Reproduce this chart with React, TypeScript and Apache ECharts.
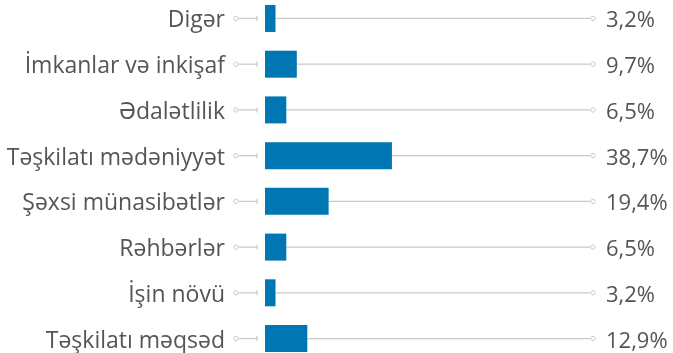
import React, { useEffect, useRef } from "react";
import * as echarts from "echarts";

const categories = [
  "Digər",
  "İmkanlar və inkişaf",
  "Ədalətlilik",
  "Təşkilatı mədəniyyət",
  "Şəxsi münasibətlər",
  "Rəhbərlər",
  "İşin növü",
  "Təşkilatı məqsəd",
];
const shares = [3.2, 9.7, 6.5, 38.7, 19.4, 6.5, 3.2, 12.9];

const BAR = "#0077b2";
const LINE = "#c9c9c9";
const TEXT = "#555555";
const FONT = "'Open Sans', 'Noto Sans', sans-serif";

export default function App() {
  const ref = useRef<HTMLDivElement>(null);

  useEffect(() => {
    const chart = echarts.init(ref.current!, null, { renderer: "svg" });

    const guideData = shares.map((v, i) => [v, i]);

    chart.setOption({
      animation: false,
      grid: {
        left: 265,
        right: 80,
        top: -4.4,
        bottom: -8.4,
        containLabel: false,
        outerBoundsMode: "none",
      },
      xAxis: { type: "value", min: 0, max: 100, show: false },
      yAxis: {
        type: "category",
        data: categories,
        inverse: true,
        axisLine: { show: false },
        axisTick: { show: false },
        splitLine: { show: false },
        axisLabel: {
          margin: 40,
          color: TEXT,
          fontFamily: FONT,
          fontSize: 23,
        },
      },
      series: [
        {
          type: "custom",
          data: guideData,
          z: 1,
          clip: false,
          renderItem: (params: any, api: any) => {
            const v = api.value(0);
            const idx = api.value(1);
            const start = api.coord([0, idx]);
            const end = api.coord([v, idx]);
            const full = api.coord([100, idx]);
            const y = start[1];
            const lineStyle = { stroke: LINE, lineWidth: 1.2, fill: null };
            return {
              type: "group",
              children: [
                // connector from label to bar
                { type: "circle", shape: { cx: start[0] - 29, cy: y, r: 2.2 }, style: { stroke: LINE, fill: "#fff", lineWidth: 1 } },
                { type: "line", shape: { x1: start[0] - 26.5, y1: y, x2: start[0] - 8, y2: y }, style: lineStyle },
                { type: "line", shape: { x1: start[0] - 8, y1: y - 2.5, x2: start[0] - 8, y2: y + 2.5 }, style: lineStyle },
                // track from bar end to full scale
                { type: "line", shape: { x1: end[0], y1: y, x2: full[0] - 2.5, y2: y }, style: lineStyle },
                { type: "circle", shape: { cx: full[0], cy: y, r: 2.2 }, style: { stroke: LINE, fill: "#fff", lineWidth: 1 } },
                {
                  type: "text",
                  style: {
                    x: full[0] + 13,
                    y: y,
                    text: v.toFixed(1).replace(".", ",") + "%",
                    fill: TEXT,
                    font: `22px ${FONT}`,
                    verticalAlign: "middle",
                    align: "left",
                  },
                },
              ],
            };
          },
        },
        {
          type: "bar",
          data: shares,
          barWidth: 27,
          z: 2,
          clip: false,
          itemStyle: { color: BAR },
        },
      ],
    });

    return () => chart.dispose();
  }, []);

  return (
    <div
      ref={ref}
      style={{ position: "fixed", left: 0, top: 0, width: 673, height: 353 }}
    />
  );
}
